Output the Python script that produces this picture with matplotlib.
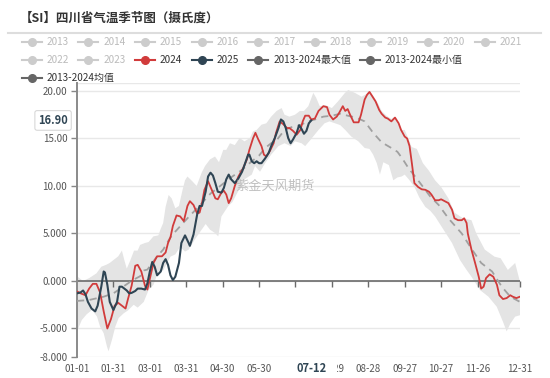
import matplotlib
matplotlib.use('Agg')
import matplotlib.pyplot as plt
import matplotlib.transforms as mtransforms
from matplotlib.lines import Line2D
from matplotlib.patches import Polygon, Rectangle
from matplotlib import markers as mmarkers

plt.rcParams['font.family'] = ['Noto Sans CJK SC', 'DejaVu Sans']

# ---------------- data (day of year, value) ----------------
tick_days = [0, 30, 60, 90, 120, 150, 180, 210, 240, 270, 300, 330, 365]
tick_labels = ['01-01', '01-31', '03-01', '03-31', '04-30', '05-30', '06-29',
               '07-29', '08-28', '09-27', '10-27', '11-26', '12-31']

y_ticks = [-8, -5, 0, 5, 10, 15, 20]
y_labels = ['-8.000', '-5.000', '0.000', '5.000', '10.00', '15.00', '20.00']

band_upper_days = [0, 5, 10, 16, 20, 24, 27, 31, 34, 37, 39, 41, 44, 47, 50, 52, 56, 59, 63, 67, 69, 71, 73, 75.5, 78, 81, 84, 87, 89, 91, 95, 98.6, 102.7, 105.5, 109.6, 113.7, 117, 120.5, 123, 126, 130, 134, 138, 142.5, 145, 148, 152, 156, 160, 164.5, 168.6, 171, 175, 179.6, 183.7, 187, 190.6, 194.7, 197, 200, 205, 210, 215, 220.8, 223.5, 229, 234.5, 238.7, 240.6, 244, 248, 251, 255, 259, 262, 267.5, 270, 273, 275.7, 280, 285, 290, 295, 300, 306, 311, 318, 325, 329, 336, 344, 349, 355, 361, 365]
band_upper = [0.5, 0.0, 0.3, 0.8, 1.5, 1.7, 1.9, 2.3, 2.6, 3.2, 2.2, 1.3, 2.2, 3.2, 3.2, 3.8, 4.0, 4.1, 4.7, 4.8, 5.5, 6.1, 7.8, 9.05, 8.7, 7.65, 7.9, 9.6, 10.6, 11.0, 10.5, 10.0, 11.4, 12.1, 12.8, 13.1, 12.5, 13.8, 13.8, 14.5, 14.3, 15.05, 14.7, 15.05, 15.75, 15.9, 16.45, 16.6, 17.3, 17.9, 18.2, 17.5, 17.3, 17.5, 17.9, 17.9, 18.4, 19.8, 19.3, 18.4, 18.5, 18.2, 18.9, 19.8, 20.1, 19.8, 19.4, 19.7, 20.0, 19.5, 18.7, 17.9, 17.4, 17.05, 17.3, 15.9, 15.9, 15.0, 14.1, 13.9, 12.4, 11.6, 10.6, 9.9, 8.7, 7.2, 6.6, 6.4, 5.0, 3.3, 2.56, 2.4, 1.16, 1.9, -0.1]

band_lower_days = [0, 4, 8, 12.4, 16.5, 19, 22, 24.7, 26, 28.8, 31.6, 34.3, 38.5, 42, 46.7, 50, 55, 59, 63, 67, 71, 77, 81, 85, 89, 92, 97, 102.7, 106, 109.6, 113.7, 116.4, 119, 124.7, 128, 133, 138, 144, 146.7, 150.8, 155, 160, 166, 171, 176, 179.6, 185, 188, 192, 199, 204, 208, 212.6, 217, 221, 226, 231.8, 237, 241, 244, 247, 249.6, 252.4, 257, 260.6, 264, 267.5, 270, 274, 278, 282, 287, 291, 295, 302, 309, 315.6, 321, 325, 332, 339, 345.8, 351, 354, 357, 361, 365]
band_lower = [-5.3, -4.1, -3.5, -3.05, -3.75, -4.8, -5.5, -6.9, -7.4, -6.2, -4.8, -3.9, -3.4, -3.1, -2.5, -2.8, -2.2, -0.95, -0.4, 1.0, 1.1, 2.56, 2.8, 3.6, 3.1, 3.3, 4.35, 5.4, 6.0, 5.4, 5.05, 4.7, 6.8, 7.9, 8.3, 9.5, 10.7, 11.2, 12.1, 11.5, 12.4, 13.3, 14.2, 14.5, 14.2, 14.7, 14.5, 14.2, 14.8, 15.9, 16.6, 16.8, 16.6, 16.4, 15.9, 15.2, 14.7, 14.0, 13.9, 13.3, 12.4, 11.2, 12.5, 12.2, 10.6, 10.9, 11.0, 11.2, 10.6, 9.9, 8.8, 7.8, 7.4, 6.8, 5.4, 4.0, 2.2, 1.16, 0.45, -0.95, -1.65, -2.7, -4.3, -5.3, -4.5, -3.75, -3.6]

mean_days = [0, 10, 22, 30, 38, 46, 52, 55, 58, 66, 71, 77, 81, 91, 100, 110, 120, 128, 136, 144, 150, 155, 160, 165, 171, 177, 184, 190, 196, 203, 210, 217, 223, 230, 237, 244, 251, 259, 264, 268, 273, 281, 291, 298, 306, 317, 325, 333, 342, 350, 357, 365]
mean_vals = [-2.1, -2.0, -1.65, -1.3, -0.6, 0.1, 0.5, 1.1, 1.2, 2.6, 3.3, 4.6, 5.2, 6.6, 7.8, 9.2, 10.2, 11.0, 11.7, 12.6, 13.2, 14.0, 14.5, 14.9, 15.9, 16.2, 16.4, 16.8, 17.0, 17.3, 17.4, 17.6, 17.4, 17.2, 16.8, 15.6, 14.6, 14.0, 13.6, 12.9, 11.9, 10.6, 8.9, 8.0, 6.6, 5.0, 3.4, 1.9, 1.0, -0.6, -1.65, -2.2]

y2024_days = [0, 3, 7, 10, 13, 16, 19, 22, 25, 28, 31, 34, 37, 40, 42, 45, 48, 50, 53, 56, 58, 61, 63, 66, 70, 73, 75, 77, 79, 82, 85, 88, 91, 93, 96, 99, 101, 103, 105, 108, 111, 114, 116, 119, 121, 123, 125, 127, 130, 133, 137, 140, 142, 145, 147, 149, 152, 154, 156, 159, 162, 164, 167, 170, 173, 175, 178, 181, 184, 186, 188, 191, 193, 196, 199, 203, 206, 208, 211, 214, 216, 219, 221, 223, 225, 228, 230, 232, 234, 237, 239, 241, 243, 246, 249, 251, 254, 256, 259, 262, 265, 267, 270, 272, 274, 276, 278, 281, 284, 287, 290, 292, 295, 298, 300, 303, 306, 309, 311, 314, 317, 319, 321, 322, 325, 328, 331, 333, 335, 337, 340, 343, 346, 348, 351, 354, 357, 359, 362, 365]
y2024 = [-1.1, -1.3, -1.5, -0.8, -0.3, -0.3, -1.2, -3.2, -5.0, -4.0, -2.6, -2.3, -2.6, -2.9, -1.9, -0.5, 1.6, 1.7, 1.0, -0.5, -0.9, 0.8, 1.9, 2.6, 2.6, 3.0, 4.0, 4.6, 5.8, 6.9, 6.8, 6.3, 7.9, 8.4, 8.0, 7.1, 7.2, 8.2, 9.6, 10.5, 9.6, 8.7, 8.6, 9.3, 9.5, 9.1, 8.2, 8.7, 10.0, 11.0, 11.9, 12.8, 13.8, 15.0, 15.6, 15.0, 14.2, 13.3, 13.1, 13.7, 14.5, 15.6, 16.8, 16.5, 16.1, 16.1, 15.8, 15.4, 15.9, 16.8, 17.4, 17.4, 17.0, 17.1, 17.9, 18.4, 18.3, 17.5, 17.0, 17.3, 17.7, 18.4, 17.9, 18.1, 17.5, 16.7, 16.7, 16.7, 17.5, 19.1, 19.6, 19.9, 19.5, 18.9, 18.0, 17.6, 17.2, 17.1, 16.8, 17.2, 16.6, 15.9, 15.2, 15.0, 14.2, 12.3, 10.3, 9.9, 9.65, 9.6, 9.4, 9.1, 8.5, 8.5, 8.6, 8.4, 8.2, 7.5, 6.6, 6.4, 6.4, 6.6, 6.1, 5.0, 3.3, 1.9, 0.45, -0.8, -0.6, 0.3, 0.7, 0.45, -0.4, -1.5, -1.9, -1.8, -1.5, -1.65, -1.8, -1.65]

y2025_days = [0, 3, 5, 7, 9, 12, 15, 17, 20, 22, 23, 25, 27, 30, 33, 35, 37, 39, 41, 43, 45, 48, 50, 53, 56, 58, 60, 62, 64, 66, 69, 71, 73, 75, 77, 79, 81, 84, 86, 89, 92, 93, 96, 99, 101, 103, 106, 108, 110, 112, 114, 116, 119, 121, 123, 125, 127, 130, 133, 136, 138, 141, 142, 144, 146, 148, 150, 152, 155, 158, 160, 163, 166, 168, 170, 172, 174, 176, 178, 181, 183, 185, 187, 189, 191, 193]
y2025 = [-1.3, -1.2, -1.0, -1.4, -2.2, -2.9, -3.2, -2.6, -0.6, 1.0, 0.9, -0.4, -2.2, -3.05, -2.2, -0.6, -0.6, -0.8, -1.0, -1.3, -1.25, -1.05, -0.8, -0.8, -0.9, -0.25, 1.0, 2.0, 1.5, 0.6, 1.0, 1.9, 2.3, 1.7, 0.6, 0.1, 0.45, 1.9, 4.0, 4.8, 4.0, 3.7, 4.9, 7.0, 7.9, 7.9, 9.4, 11.0, 11.4, 11.1, 10.3, 9.4, 9.3, 9.8, 10.7, 11.2, 10.7, 10.3, 10.8, 11.5, 12.2, 13.3, 13.3, 12.6, 12.4, 12.6, 12.4, 12.4, 12.9, 13.5, 14.2, 15.05, 16.1, 17.0, 16.8, 16.1, 15.05, 14.5, 14.9, 15.6, 16.4, 16.0, 15.5, 15.8, 16.6, 16.9]

legend_row1 = ['2013', '2014', '2015', '2016', '2017', '2018', '2019', '2020', '2021']
legend_row2 = ['2022', '2023', '2024', '2025', '2013-2024最大值', '2013-2024最小值']
legend_row3 = ['2013-2024均值']

pointer_day = 193
pointer_label = '07-12'
pointer_value = 16.90

# ---------------- styling ----------------
W, H = 550, 378
RED = '#d13b3b'
BLUE = '#2f4554'
GRAY_DARK = '#666666'
GRAY_OFF = '#cccccc'
GRAY_OFF_TXT = '#bbbbbb'


def fx(px):
    return px / W


def fy(py):
    return 1 - py / H


fig = plt.figure(figsize=(W / 100, H / 100), dpi=100)
ax = fig.add_axes([fx(77), fy(357), 443 / W, 274 / H])

# band (min-max range)
poly_x = band_upper_days + band_lower_days[::-1]
poly_y = band_upper + band_lower[::-1]
ax.add_patch(Polygon(list(zip(poly_x, poly_y)), closed=True, facecolor='#e4e4e4',
                     edgecolor='none', zorder=1))

# zero axis line with ticks
ax.axhline(0, color='#6a6a6a', lw=1.2, zorder=2)
ax.plot(tick_days[1:], [0] * (len(tick_days) - 1), ls='none', marker=mmarkers.TICKDOWN,
        ms=4, mew=1.0, color='#6a6a6a', zorder=2, clip_on=False)

ax.plot(mean_days, mean_vals, color='#a0a0a0', lw=1.3, ls=(0, (4, 3)), zorder=3)
ax.plot(y2024_days, y2024, color=RED, lw=1.3, zorder=4)
ax.plot(y2025_days, y2025, color=BLUE, lw=1.5, zorder=5)

ax.set_xlim(0, 365)
ax.set_ylim(-8, 20.84)

ax.set_yticks(y_ticks)
ax.set_yticklabels(y_labels)
ax.set_xticks(tick_days)
ax.set_xticklabels(tick_labels)
ax.tick_params(axis='y', length=4, width=1, color='#888888', labelsize=7,
               labelcolor='#555555', pad=3)
ax.tick_params(axis='x', length=0, labelsize=7, labelcolor='#555555', pad=5)

ax.grid(axis='y', color='#e8e8e8', lw=1)
ax.grid(axis='x', visible=False)
ax.set_axisbelow(True)
for s in ['top', 'right', 'bottom']:
    ax.spines[s].set_visible(False)
ax.spines['left'].set_color('#8a8a8a')
ax.spines['left'].set_linewidth(1.4)
ax.axhline(20.84, color='#e8e8e8', lw=1, zorder=0)

# axis-pointer labels
bt = mtransforms.blended_transform_factory(ax.transData, ax.transAxes)
ax.add_patch(Rectangle((169.5, -0.085), 45, 0.078, transform=bt, facecolor='white',
                       edgecolor='none', zorder=9, clip_on=False))
ax.text(pointer_day, -0.042, pointer_label, transform=bt, ha='center', va='center',
        fontsize=8, fontweight='bold', color=BLUE, zorder=10, clip_on=False)
bt2 = mtransforms.blended_transform_factory(ax.transAxes, ax.transData)
ax.text(-0.054, pointer_value, f'{pointer_value:.2f}', transform=bt2, ha='center', va='center',
        fontsize=8, fontweight='bold', color=BLUE, zorder=10, clip_on=False,
        bbox=dict(boxstyle='round,pad=0.3,rounding_size=0.2', fc='white', ec='#d8d8d8', lw=0.8))

# watermark
fig.text(fx(275), fy(186), '紫金天风期货', fontsize=9.5, color='#b5b5b5', ha='center',
         va='center', alpha=0.85)

# title & separator
fig.text(fx(20), fy(18), '【SI】四川省气温季节图（摄氏度）', fontsize=9, fontweight='bold',
         color='#333333', ha='left', va='center')
fig.add_artist(Line2D([fx(8), fx(541)], [fy(33), fy(33)], color='#dddddd', lw=1.5))


# legend
def legend_item(x0, y, label, color, tcolor):
    fig.add_artist(Line2D([fx(x0), fx(x0 + 20)], [fy(y), fy(y)], color=color, lw=1.5))
    fig.add_artist(Line2D([fx(x0 + 10)], [fy(y)], marker='o', ms=5.5, color=color,
                          mec=color, ls='none'))
    fig.text(fx(x0 + 25), fy(y), label, color=tcolor, fontsize=7.2, ha='left', va='center')


step = 56.6
for i, lab in enumerate(legend_row1):
    legend_item(21.7 + i * step, 42, lab, GRAY_OFF, GRAY_OFF_TXT)

row2_styles = [(GRAY_OFF, GRAY_OFF_TXT), (GRAY_OFF, GRAY_OFF_TXT), (RED, '#333333'),
               (BLUE, '#333333'), (GRAY_DARK, '#333333'), (GRAY_DARK, '#333333')]
row2_x = [21.7, 78.3, 135, 191.7, 248.3, 360]
for lab, xx, (c, tc) in zip(legend_row2, row2_x, row2_styles):
    legend_item(xx, 60, lab, c, tc)

legend_item(21.7, 78, legend_row3[0], GRAY_DARK, '#333333')

fig.savefig('out.png', dpi=100)
